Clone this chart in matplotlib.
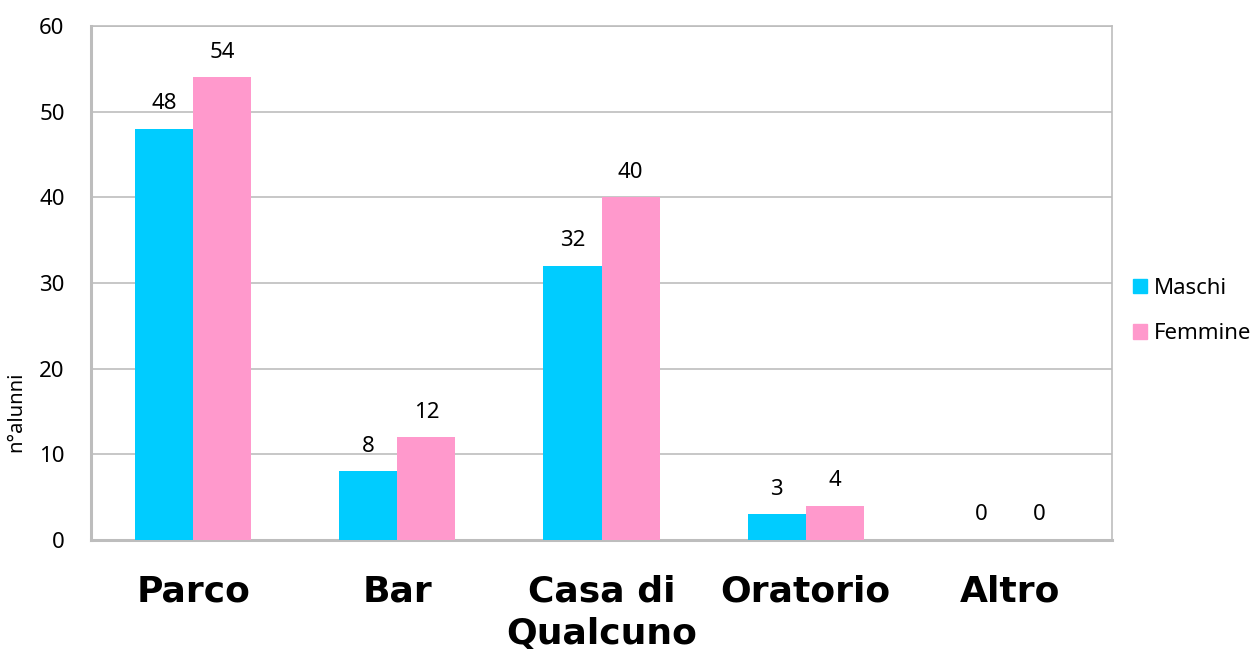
import matplotlib
matplotlib.use("Agg")
import matplotlib.pyplot as plt
import numpy as np
from matplotlib.patches import Patch

categories = ["Parco", "Bar", "Casa di\nQualcuno", "Oratorio", "Altro"]
maschi = [48, 8, 32, 3, 0]
femmine = [54, 12, 40, 4, 0]
series_names = ["Maschi", "Femmine"]
yticks = [0, 10, 20, 30, 40, 50, 60]

C_M = "#00CCFF"
C_F = "#FF99CC"
GRID = "#BDBDBD"

plt.rcParams['font.family'] = ['Noto Sans', 'DejaVu Sans']

fig = plt.figure(figsize=(12.56, 6.55), dpi=100)
ax = fig.add_axes([91/1256, 1-540/655, (1112-91)/1256, (540-26)/655])

x = np.arange(len(categories))
w = 0.285
b1 = ax.bar(x - w/2, maschi, w, color=C_M, zorder=3)
b2 = ax.bar(x + w/2, femmine, w, color=C_F, zorder=3)

for bars, vals in ((b1, maschi), (b2, femmine)):
    for r, v in zip(bars, vals):
        ax.annotate(str(v), (r.get_x() + r.get_width()/2, v),
                    xytext=(0, 18), textcoords='offset points',
                    ha='center', va='center', fontsize=16, color='#000000')

ax.set_xlim(-0.5, len(categories) - 0.5)
ax.set_ylim(0, 60)
ax.set_yticks(yticks)
ax.set_yticklabels([str(t) for t in yticks], fontsize=16)
ax.yaxis.grid(True, color=GRID, linewidth=1.2, zorder=0)
ax.set_axisbelow(True)
ax.tick_params(axis='y', length=0, pad=19, colors=GRID, labelcolor='#000000')
ax.set_xticks(x)
ax.set_xticklabels(categories, fontsize=26, fontweight='bold',
                   family=['DejaVu Sans'], linespacing=1.3)
ax.tick_params(axis='x', length=0, pad=25)
for s in ax.spines.values():
    s.set_color(GRID)
    s.set_linewidth(1.2)
ax.spines['left'].set_linewidth(2.2)
ax.spines['bottom'].set_linewidth(2.2)

ax.set_ylabel("n°alunni", fontsize=14.5)
ax.yaxis.set_label_coords(-0.063, 0.25)

handles = [Patch(color=C_M), Patch(color=C_F)]
fig.legend(handles, series_names, loc='center left',
           bbox_to_anchor=(1133/1256, 1-311/655), bbox_transform=fig.transFigure,
           frameon=False, fontsize=16, handlelength=0.65, handleheight=0.65,
           handletextpad=0.3, labelspacing=1.1, borderpad=0, borderaxespad=0)

fig.savefig("out.png", dpi=100)
